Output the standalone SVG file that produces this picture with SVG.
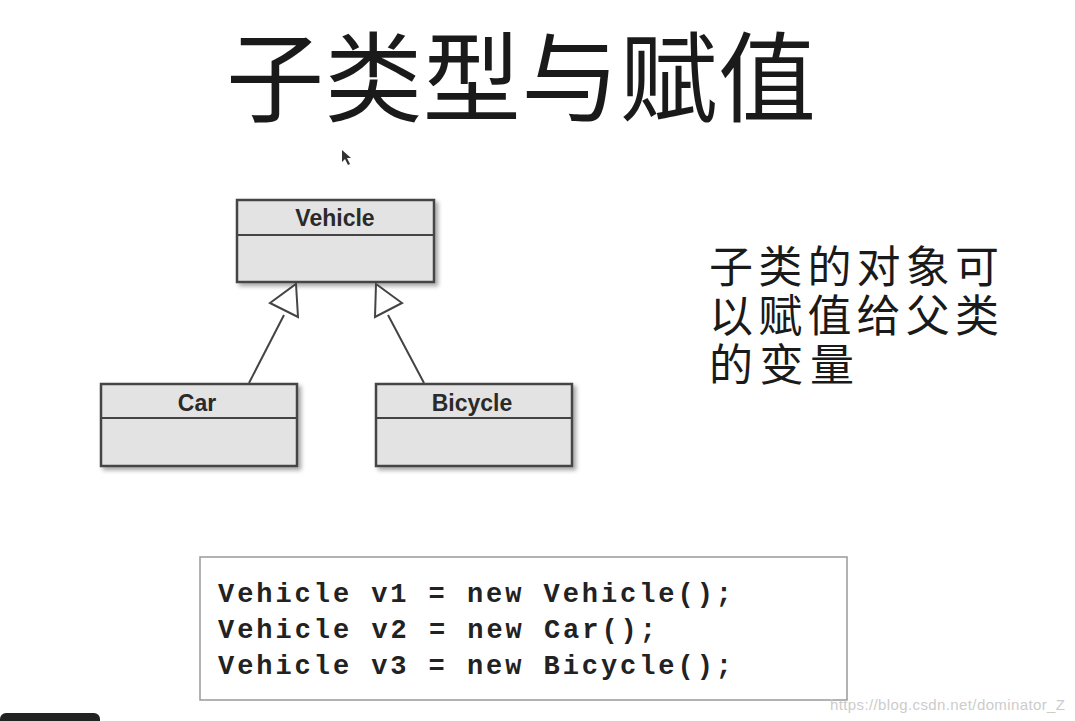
<svg xmlns="http://www.w3.org/2000/svg" width="1075" height="721" viewBox="0 0 1075 721">
<style>
.box{fill:#e3e3e3;stroke:#444;stroke-width:2.5}
.sep{stroke:#444;stroke-width:2}
.lbl{font-family:"Liberation Sans",Arial,sans-serif;font-weight:bold;font-size:23px;fill:#2a2a2a;text-anchor:middle}
.cjk{font-family:"Noto Sans CJK SC",sans-serif;fill:#1a1a1a}
.code{font-family:"Liberation Mono","Courier New",monospace;font-weight:bold;font-size:27px;fill:#222}
.edge{stroke:#444;stroke-width:2;fill:none}
.tri{fill:#fff;stroke:#444;stroke-width:2}
</style>
<defs><filter id="sh"><feDropShadow dx="3" dy="3" stdDeviation="2" flood-opacity="0.35"/></filter></defs>
<rect width="1075" height="721" fill="#fff"/>
<text class="cjk" x="226" y="114" font-size="98" textLength="590">子类型与赋值</text>
<polygon points="342,150 342,162 345,159 348,165 350,164 347,158 351,158" fill="#333"/>
<g id="vehicle"><rect class="box" x="237" y="200" width="197" height="82" filter="url(#sh)"/><line class="sep" x1="237" y1="235" x2="434" y2="235"/><text class="lbl" x="335" y="226">Vehicle</text></g>
<g id="car"><rect class="box" x="101" y="384" width="196" height="82" filter="url(#sh)"/><line class="sep" x1="101" y1="418" x2="297" y2="418"/><text class="lbl" x="197" y="411">Car</text></g>
<g id="bicycle"><rect class="box" x="376" y="384" width="196" height="82" filter="url(#sh)"/><line class="sep" x1="376" y1="418" x2="572" y2="418"/><text class="lbl" x="472" y="411">Bicycle</text></g>
<g id="connectors">
<line class="edge" x1="249" y1="383" x2="284" y2="315"/>
<polygon class="tri" points="296,284 298,317 270,303"/>
<line class="edge" x1="424" y1="383" x2="388" y2="315"/>
<polygon class="tri" points="376,284 402,303 375,317"/>
</g>
<text class="cjk" font-size="44" x="709" y="283" textLength="290">子类的对象可</text>
<text class="cjk" font-size="44" x="709" y="332" textLength="290">以赋值给父类</text>
<text class="cjk" font-size="44" x="709" y="381" textLength="145">的变量</text>
<g id="code"><rect x="200" y="557" width="647" height="143" fill="#fff" stroke="#999" stroke-width="1.5"/>
<text class="code" x="218" y="602" textLength="514">Vehicle v1 = new Vehicle();</text>
<text class="code" x="218" y="638" textLength="438">Vehicle v2 = new Car();</text>
<text class="code" x="218" y="674" textLength="514">Vehicle v3 = new Bicycle();</text></g>
<text x="830" y="710" font-family="Liberation Sans,Arial,sans-serif" font-size="15" fill="#ccc" textLength="235">https://blog.csdn.net/dominator_Z</text>
<rect x="0" y="713" width="100" height="20" rx="6" fill="#222"/>
</svg>
